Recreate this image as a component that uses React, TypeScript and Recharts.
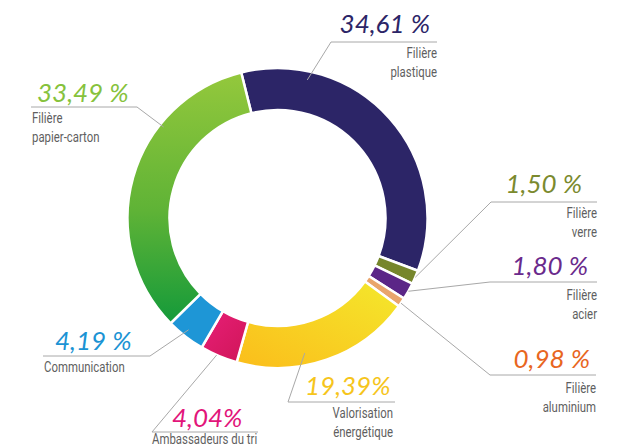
import { PieChart, Pie, Cell } from 'recharts';

// données (ordre horaire depuis le haut)
const categories = [
  'Filière plastique',
  'Filière verre',
  'Filière acier',
  'Filière aluminium',
  'Valorisation énergétique',
  'Ambassadeurs du tri',
  'Communication',
  'Filière papier-carton',
];
const shares = [34.61, 1.5, 1.8, 0.98, 19.39, 4.04, 4.19, 33.49];
const shareLabels = ['34,61 %', '1,50 %', '1,80 %', '0,98 %', '19,39%', '4,04%', '4,19 %', '33,49 %'];
const nameLines = [
  ['Filière', 'plastique'],
  ['Filière', 'verre'],
  ['Filière', 'acier'],
  ['Filière', 'aluminium'],
  ['Valorisation', 'énergétique'],
  ['Ambassadeurs du tri'],
  ['Communication'],
  ['Filière', 'papier-carton'],
];
const colors = ['#2c2567', '#76862c', '#5b2687', '#e9a56c', 'url(#gradYellow)', 'url(#gradPink)', '#1e96d6', 'url(#gradGreen)'];
const textColors = ['#2c2567', '#7b8a2e', '#6a2a8c', '#e8661e', '#f6c51c', '#e2157a', '#1b93d4', '#86c23c'];

const data = categories.map((name, i) => ({ name, value: shares[i] }));

// placement des étiquettes
// f / rf : point d'accroche dans le secteur (fraction d'angle / de rayon)
type Lay = {
  x1: number; x2: number; y: number; join: number;
  px: number; py: number; pa: 'start' | 'end';
  sx: number; sy: number; sa: 'start' | 'end';
  f: number; rf: number;
};
const layout: Lay[] = [
  { x1: 331, x2: 437, y: 42, join: 331, px: 430, py: 33, pa: 'end', sx: 437, sy: 58, sa: 'end', f: 0.21, rf: 0.79 },
  { x1: 491, x2: 597, y: 202, join: 491, px: 582, py: 193, pa: 'end', sx: 597, sy: 218, sa: 'end', f: 0.5, rf: 1 },
  { x1: 490, x2: 597, y: 282, join: 490, px: 588, py: 275, pa: 'end', sx: 597, sy: 300, sa: 'end', f: 0.5, rf: 1 },
  { x1: 490, x2: 596, y: 375, join: 490, px: 590, py: 368, pa: 'end', sx: 596, sy: 393, sa: 'end', f: 0.6, rf: 1 },
  { x1: 288, x2: 395, y: 402, join: 288, px: 305, py: 395, pa: 'start', sx: 393, sy: 418, sa: 'end', f: 0.61, rf: 0.71 },
  { x1: 152, x2: 258, y: 432, join: 152, px: 172, py: 427, pa: 'start', sx: 152, sy: 444, sa: 'start', f: 0.56, rf: 1 },
  { x1: 43, x2: 150, y: 356, join: 150, px: 55, py: 350, pa: 'start', sx: 44, sy: 372, sa: 'start', f: 0.54, rf: 0.83 },
  { x1: 31, x2: 137, y: 107, join: 137, px: 37, py: 102, pa: 'start', sx: 32, sy: 123, sa: 'start', f: 0.69, rf: 0.9 },
];

const RAD = Math.PI / 180;

const renderLabel = (props: any) => {
  const { cx, cy, startAngle, endAngle, innerRadius, outerRadius, index } = props;
  const l = layout[index];
  const a = startAngle + l.f * (endAngle - startAngle);
  const r = innerRadius + l.rf * (outerRadius - innerRadius);
  const ax = cx + r * Math.cos(a * RAD);
  const ay = cy - r * Math.sin(a * RAD);
  return (
    <g key={'lbl' + index}>
      <line x1={l.x1} y1={l.y} x2={l.x2} y2={l.y} stroke="#a8a8a8" strokeWidth={1} />
      <line x1={l.join} y1={l.y} x2={ax} y2={ay} stroke="#a8a8a8" strokeWidth={1} />
      <text
        x={l.px}
        y={l.py}
        textAnchor={l.pa}
        fill={textColors[index]}
        fontFamily="Lato, 'Open Sans', sans-serif"
        fontStyle="italic"
        fontWeight={400}
        fontSize={26}
      >
        {shareLabels[index]}
      </text>
      {nameLines[index].map((t, k) => (
        // texte condensé : police étroite simulée par un scaleX
        <text
          key={k}
          transform={`translate(${l.sx},${l.sy + k * 18.5}) scale(0.76,1)`}
          x={0}
          y={0}
          textAnchor={l.sa}
          fill="#5f5f5f"
          fontFamily="Roboto, sans-serif"
          fontSize={15}
        >
          {t}
        </text>
      ))}
    </g>
  );
};

export default function App() {
  return (
    <div style={{ position: 'absolute', left: 0, top: 0, width: 630, height: 448, background: '#fff' }}>
      <PieChart width={630} height={448} margin={{ top: 0, right: 0, bottom: 0, left: 0 }}>
        <defs>
          <linearGradient id="gradGreen" x1="0" y1="0" x2="0" y2="1">
            <stop offset="0%" stopColor="#94c83c" />
            <stop offset="55%" stopColor="#5fb336" />
            <stop offset="100%" stopColor="#149a3a" />
          </linearGradient>
          <linearGradient id="gradYellow" x1="1" y1="0" x2="0" y2="1">
            <stop offset="0%" stopColor="#f4e82c" />
            <stop offset="100%" stopColor="#fbbd1b" />
          </linearGradient>
          <linearGradient id="gradPink" x1="0" y1="0" x2="1" y2="1">
            <stop offset="0%" stopColor="#e81f78" />
            <stop offset="100%" stopColor="#cf1557" />
          </linearGradient>
        </defs>
        <Pie
          data={data}
          dataKey="value"
          nameKey="name"
          cx={277.5}
          cy={218}
          innerRadius={108}
          outerRadius={150}
          startAngle={104}
          endAngle={-256}
          stroke="#fff"
          strokeWidth={2.5}
          label={renderLabel}
          labelLine={false}
          isAnimationActive={false}
        >
          {data.map((d, i) => (
            <Cell key={d.name} fill={colors[i]} />
          ))}
        </Pie>
      </PieChart>
    </div>
  );
}
